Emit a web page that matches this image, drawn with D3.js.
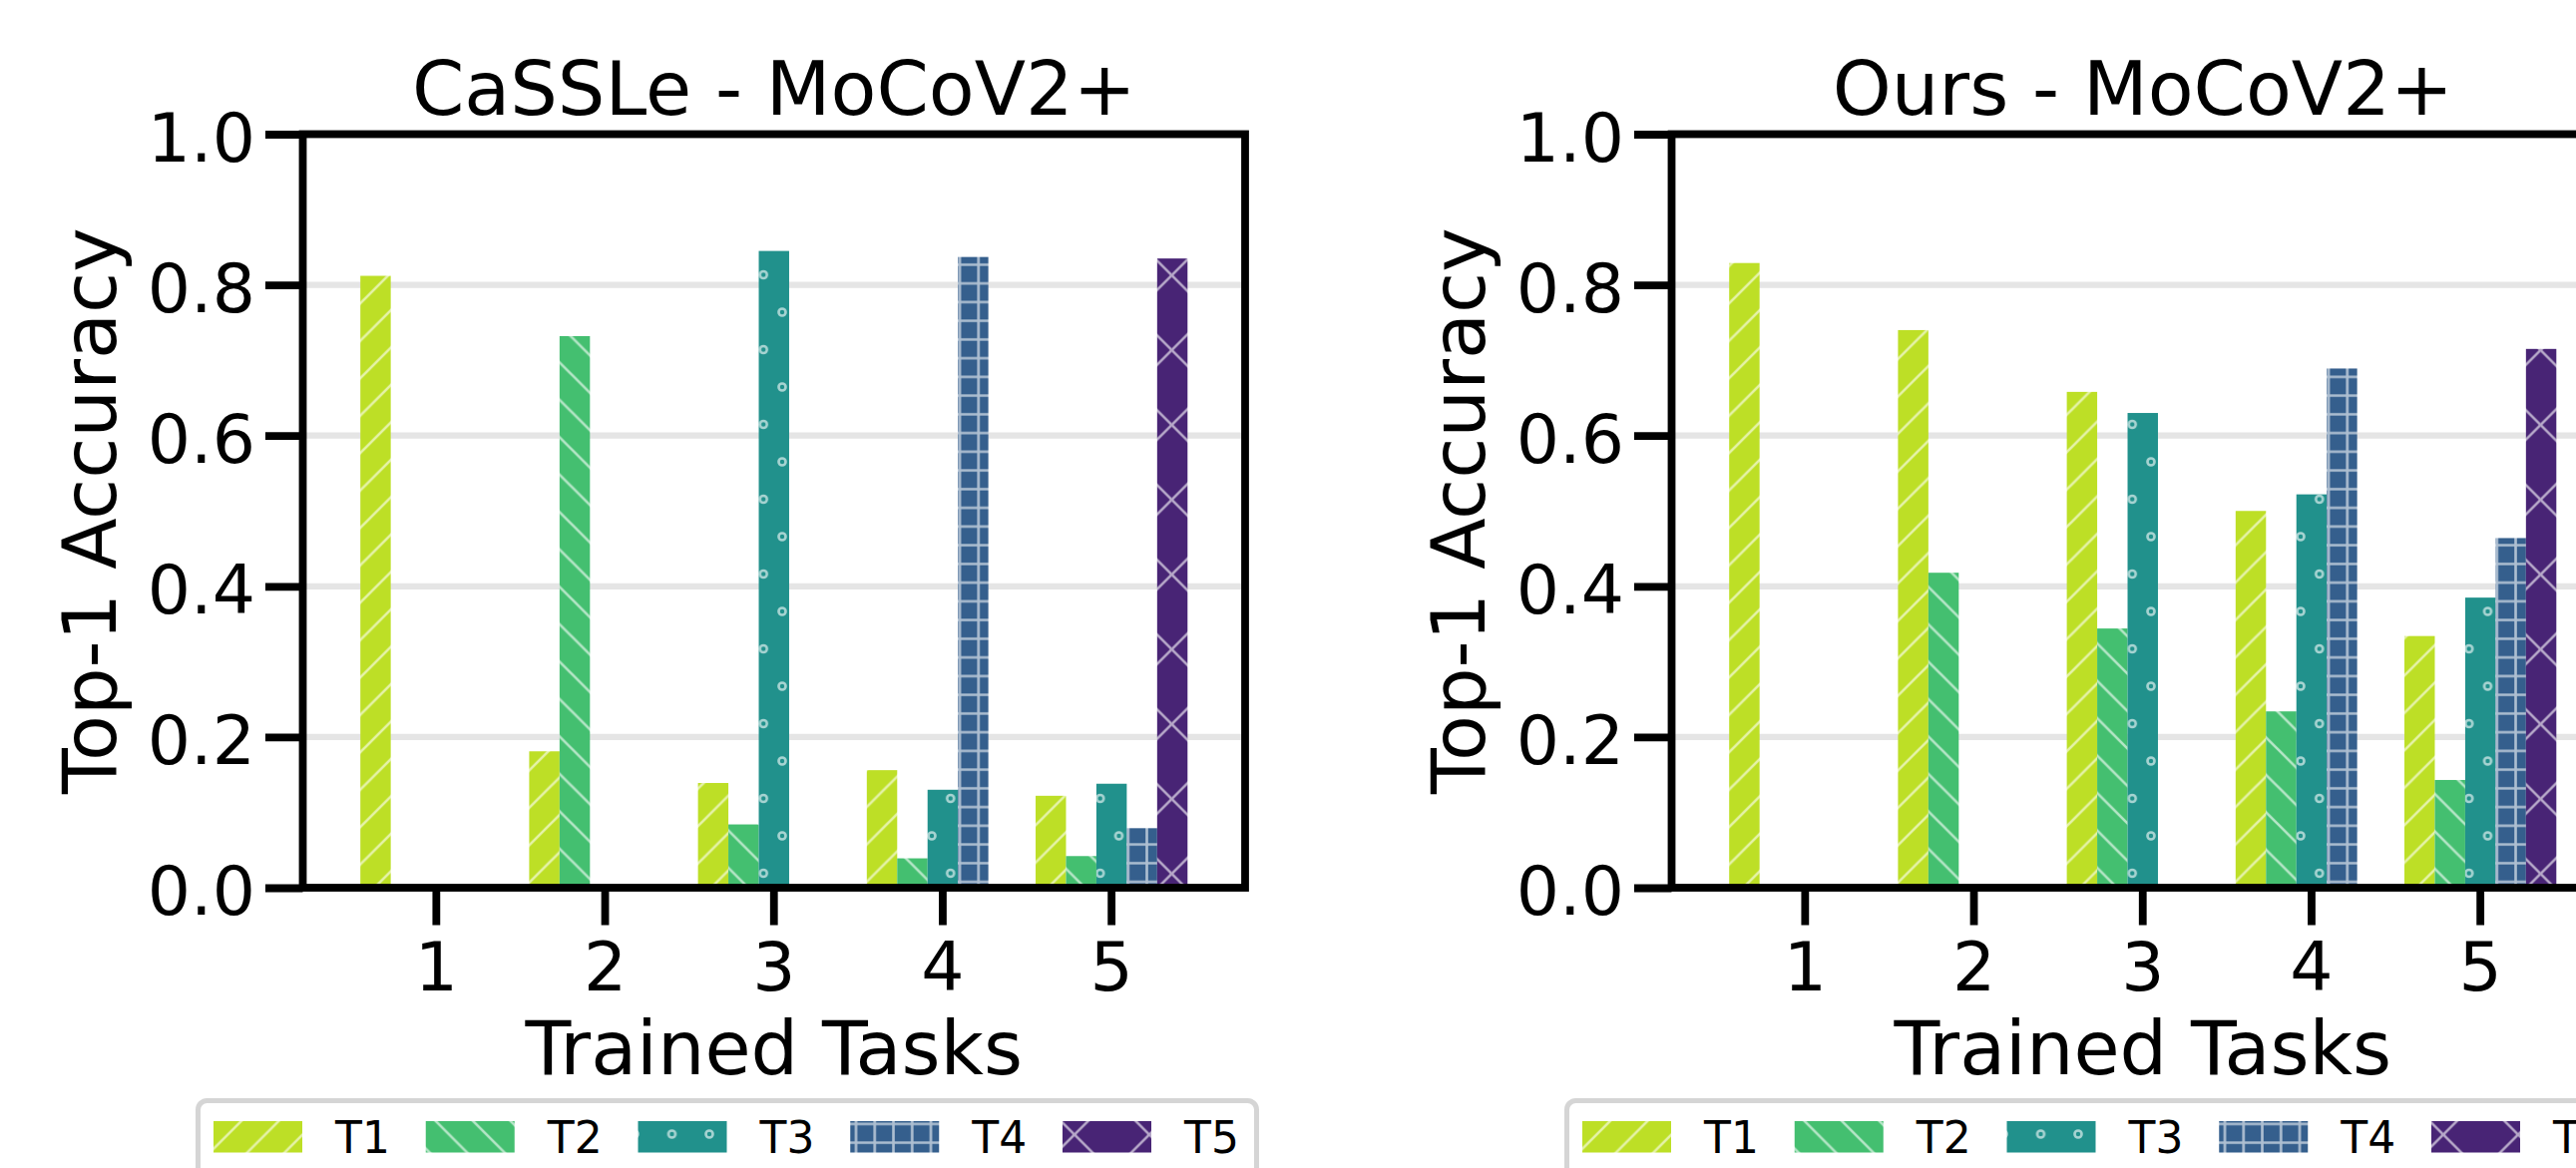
<!DOCTYPE html>
<html>
<head>
<meta charset="utf-8">
<script src="https://cdn.jsdelivr.net/npm/d3@7"></script>
<style>
  body { margin: 0; background: #fff; }
  svg { display: block; font-family: 'DejaVu Sans', sans-serif; }
</style>
</head>
<body>
<svg id="s"></svg>
<script>
const tasks = ['T1', 'T2', 'T3', 'T4', 'T5'];
const trained = ['1', '2', '3', '4', '5'];
const yTicks = [0, 0.2, 0.4, 0.6, 0.8, 1.0];
const titles = ['CaSSLe - MoCoV2+', 'Ours - MoCoV2+'];
// rows: accuracy on T1..T5, columns: after training task 1..5
const cassle = [
  [0.812, 0.181, 0.139, 0.156, 0.122],
  [0, 0.732, 0.084, 0.039, 0.042],
  [0, 0, 0.845, 0.130, 0.138],
  [0, 0, 0, 0.837, 0.079],
  [0, 0, 0, 0, 0.835],
];
const ours = [
  [0.829, 0.740, 0.658, 0.500, 0.334],
  [0, 0.418, 0.344, 0.234, 0.143],
  [0, 0, 0.630, 0.522, 0.385],
  [0, 0, 0, 0.689, 0.464],
  [0, 0, 0, 0, 0.715],
];
const colors = ['#bddf26', '#44bf70', '#21918c', '#355f8d', '#482475'];

const settings = {
  width: 2582,
  height: 1171,
  panelShift: 1372,
  left: 303.5,
  right: 1248,
  top: 134.5,
  bottom: 890,
  line: 7.8,
  tick: 37.5,
};
const hatchColor = 'rgba(255,255,255,0.6)';
const hatches = [
  { size: [37.5, 37.5], off: [27.8, 0], d: 'M0,37.5L37.5,0M-5,5L5,-5M32.5,42.5L42.5,32.5' },
  { size: [37.5, 37.5], off: [10, 0], d: 'M0,0L37.5,37.5M-5,32.5L5,42.5M32.5,-5L42.5,5' },
  { size: [37.5, 75], off: [34, 13], dots: [[0, 0], [37.5, 0], [18.75, 37.5], [0, 75], [37.5, 75]] },
  { size: [18.75, 18.75], off: [-3.6, -6.5], d: 'M0,9.375H18.75M9.375,0V18.75' },
  { size: [75, 75], off: [12, 13.5], d: 'M0,0L75,75M0,75L75,0M-5,5L5,-5M70,80L80,70' },
];

const svg = d3.select('#s')
  .attr('width', settings.width)
  .attr('height', settings.height);

const defs = svg.append('defs');
hatches.forEach((h, i) => {
  const p = defs.append('pattern')
    .attr('id', `hatch${i}`)
    .attr('patternUnits', 'userSpaceOnUse')
    .attr('x', h.off[0])
    .attr('y', h.off[1])
    .attr('width', h.size[0])
    .attr('height', h.size[1]);
  p.append('rect')
    .attr('width', h.size[0])
    .attr('height', h.size[1])
    .attr('fill', colors[i]);
  if (h.d) {
    p.append('path')
      .attr('d', h.d)
      .attr('stroke', hatchColor)
      .attr('stroke-width', 2.6)
      .attr('fill', 'none');
  }
  if (h.dots) {
    p.selectAll('circle')
      .data(h.dots)
      .enter()
      .append('circle')
      .attr('cx', d => d[0])
      .attr('cy', d => d[1])
      .attr('r', 3.5)
      .attr('fill', 'none')
      .attr('stroke', hatchColor)
      .attr('stroke-width', 2.6);
  }
});

const x = d3.scaleBand()
  .domain(trained)
  .range([settings.left, settings.right])
  .paddingInner(0)
  .paddingOuter(0.291);
const hue = d3.scaleBand()
  .domain(tasks)
  .range([0, x.bandwidth()])
  .paddingInner(0)
  .paddingOuter(0.278);
const y = d3.scaleLinear()
  .domain([0, 1])
  .range([settings.bottom, settings.top]);
const legendX = d3.scaleLinear()
  .domain([0, tasks.length - 1])
  .range([214, 1065]);

const midX = (settings.left + settings.right) / 2;

function drawPanel(values, title, shift) {
  const g = svg.append('g').attr('transform', `translate(${shift},0)`);

  g.append('g')
    .selectAll('line')
    .data(yTicks.slice(1, -1))
    .enter()
    .append('line')
    .attr('x1', settings.left)
    .attr('x2', settings.right)
    .attr('y1', y)
    .attr('y2', y)
    .attr('stroke', '#e5e5e5')
    .attr('stroke-width', 6.25);

  const rows = values.map((row, t) => row.map((v, k) => ({ task: tasks[t], group: trained[k], v, t })));
  g.append('g')
    .selectAll('g')
    .data(rows)
    .enter()
    .append('g')
    .attr('fill', (r, t) => `url(#hatch${t})`)
    .selectAll('rect')
    .data(r => r.filter(d => d.v > 0))
    .enter()
    .append('rect')
    .attr('x', d => x(d.group) + hue(d.task))
    .attr('y', d => y(d.v))
    .attr('width', hue.bandwidth())
    .attr('height', d => y(0) - y(d.v));

  const yAxis = g.append('g')
    .attr('transform', `translate(${settings.left},0)`)
    .call(d3.axisLeft(y)
      .tickValues(yTicks)
      .tickFormat(d3.format('.1f'))
      .tickSizeInner(settings.tick)
      .tickSizeOuter(0)
      .tickPadding(10));
  const xAxis = g.append('g')
    .attr('transform', `translate(0,${settings.bottom})`)
    .call(d3.axisBottom(x)
      .tickSizeInner(settings.tick)
      .tickSizeOuter(0)
      .tickPadding(17));
  [yAxis, xAxis].forEach(a => {
    a.select('.domain').remove();
    a.selectAll('line').attr('stroke-width', settings.line);
    a.selectAll('text')
      .attr('font-family', 'DejaVu Sans')
      .attr('font-size', 68)
      .attr('fill', '#000');
  });
  yAxis.selectAll('text').attr('dy', '0.39em');

  g.append('rect')
    .attr('x', settings.left)
    .attr('y', settings.top)
    .attr('width', settings.right - settings.left)
    .attr('height', settings.bottom - settings.top)
    .attr('fill', 'none')
    .attr('stroke', '#000')
    .attr('stroke-width', settings.line);

  g.append('text')
    .attr('x', midX)
    .attr('y', 115)
    .attr('text-anchor', 'middle')
    .attr('font-size', 75)
    .text(title);
  g.append('text')
    .attr('x', midX)
    .attr('y', 1077)
    .attr('text-anchor', 'middle')
    .attr('font-size', 75)
    .text('Trained Tasks');
  g.append('text')
    .attr('transform', `translate(116,${(settings.top + settings.bottom) / 2}) rotate(-90)`)
    .attr('text-anchor', 'middle')
    .attr('font-size', 75)
    .text('Top-1 Accuracy');

  const lg = g.append('g');
  lg.append('rect')
    .attr('x', 198.5)
    .attr('y', 1103.5)
    .attr('width', 1061)
    .attr('height', 200)
    .attr('rx', 9)
    .attr('fill', '#fff')
    .attr('stroke', '#d5d5d5')
    .attr('stroke-width', 5);
  const item = lg.selectAll('g.item')
    .data(tasks)
    .enter()
    .append('g')
    .attr('class', 'item')
    .attr('transform', (t, i) => `translate(${legendX(i)},1124)`);
  item.append('rect')
    .attr('width', 89)
    .attr('height', 31.5)
    .attr('fill', (t, i) => `url(#hatch${i})`);
  item.append('text')
    .attr('x', 122)
    .attr('y', 32)
    .attr('font-size', 44)
    .text(t => t);
}

drawPanel(cassle, titles[0], 0);
drawPanel(ours, titles[1], settings.panelShift);
</script>
</body>
</html>
